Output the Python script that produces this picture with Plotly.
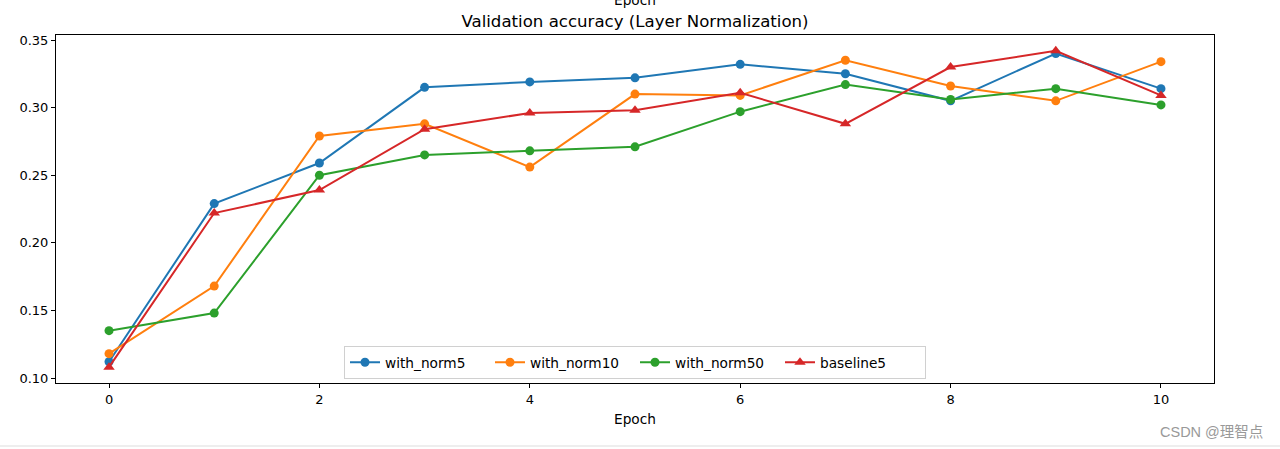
import plotly.graph_objects as go

# Values

epochs = list(range(11))

with_norm5 = [0.112, 0.229, 0.259, 0.315, 0.319, 0.322, 0.332, 0.325, 0.305, 0.340, 0.314]
with_norm10 = [0.118, 0.168, 0.279, 0.288, 0.256, 0.310, 0.309, 0.335, 0.316, 0.305, 0.334]
with_norm50 = [0.135, 0.148, 0.250, 0.265, 0.268, 0.271, 0.297, 0.317, 0.306, 0.314, 0.302]
baseline5 = [0.108, 0.222, 0.239, 0.284, 0.296, 0.298, 0.311, 0.288, 0.330, 0.342, 0.309]

series_names = ["with_norm5", "with_norm10", "with_norm50", "baseline5"]
series_values = [with_norm5, with_norm10, with_norm50, baseline5]
series_colors = ["#1f77b4", "#ff7f0e", "#2ca02c", "#d62728"]
series_symbols = ["circle", "circle", "circle", "triangle-up"]

x_ticks = [0, 2, 4, 6, 8, 10]
y_ticks = [0.10, 0.15, 0.20, 0.25, 0.30, 0.35]

# Make the line chart

fig = go.Figure()
for name, vals, color, symbol in zip(series_names, series_values, series_colors, series_symbols):
    fig.add_trace(go.Scatter(
        x=epochs, y=vals, name=name, mode="lines+markers",
        line=dict(color=color, width=2),
        marker=dict(color=color, size=10 if symbol == "triangle-up" else 9, symbol=symbol),
    ))

axis_style = dict(
    showline=True, linecolor="black", linewidth=1, mirror=True,
    ticks="outside", ticklen=4, tickcolor="black", showgrid=False, zeroline=False,
    tickfont=dict(size=13, color="black"),
)

fig.update_layout(
    width=1280, height=449,
    margin=dict(l=56, r=66, t=35, b=66),
    paper_bgcolor="white", plot_bgcolor="white",
    font=dict(family="DejaVu Sans", color="black"),
    title=dict(text="Validation accuracy (Layer Normalization)", x=0.4961, xanchor="center",
               y=0.953, yanchor="middle", font=dict(size=16.6, color="black")),
    xaxis=dict(range=[-0.504, 10.504], tickvals=x_ticks,
               title=dict(text="Epoch", font=dict(size=13.7), standoff=8), **axis_style),
    yaxis=dict(range=[0.0963, 0.3537], tickvals=y_ticks, tickformat=".2f", **axis_style),
    legend=dict(orientation="h", x=0.5, xanchor="center", y=0.012, yanchor="bottom",
                bgcolor="rgba(255,255,255,0.8)", bordercolor="#d0d0d0", borderwidth=1,
                font=dict(size=13.7), itemwidth=30, entrywidth=100),
    showlegend=True,
)

# Cut-off label at the top and the watermark at the bottom right
fig.add_annotation(text="Epoch", xref="paper", yref="paper", x=0.5, y=1.1006,
                   xanchor="center", yanchor="middle", showarrow=False,
                   font=dict(size=13.7, color="black"))
fig.add_annotation(text="CSDN @理智点", xref="paper", yref="paper", x=1.044, y=-0.141,
                   xanchor="right", yanchor="middle", showarrow=False,
                   font=dict(size=14.5, color="#999999", family="Liberation Sans, Noto Sans CJK SC"))
fig.add_shape(type="line", xref="paper", yref="paper", x0=-0.0484, x1=1.057, y0=-0.181, y1=-0.181,
              line=dict(color="#eeeeee", width=2))

# Drop the page's default body margin so the figure sits at the window's corner
fig.write_html("out.html", config={"displayModeBar": False},
               post_script="document.body.style.margin='0';")
